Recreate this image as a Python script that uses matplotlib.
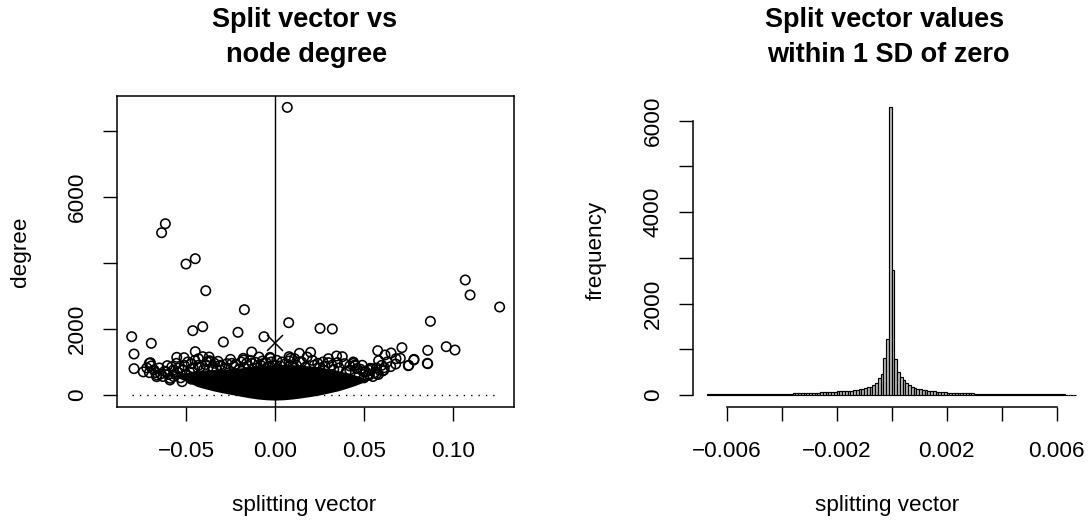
import numpy as np
import matplotlib
matplotlib.use("Agg")
import matplotlib.pyplot as plt

plt.rcParams['font.family'] = ['Liberation Sans', 'DejaVu Sans']

# ---- datos: panel izquierdo (vector de division vs grado) ----
pts_x = [0.0069, -0.0616, -0.0637, -0.0500, -0.0448, -0.0389, -0.0172, -0.0406, -0.0462, -0.0208,
         -0.0290, -0.0062, -0.0805, -0.0792, -0.0792, -0.0695, 0.0077, 0.0253, 0.0322, 0.1069,
         0.1096, 0.1262, 0.0873, 0.0962, 0.1011, 0.0858, 0.0858, 0.0713, 0.0781, 0.0751,
         0.0704, 0.0652, 0.0618, 0.0577, 0.0582, 0.0678, 0.0614, 0.0605, 0.0545, 0.0526,
         0.0378, 0.0346, 0.0200, 0.0137, -0.0131, -0.0178, -0.0028, -0.0448, -0.0552, -0.0511,
         -0.0706, -0.0695, -0.0706, -0.0665, -0.0643, -0.0605, -0.0590, -0.0406, -0.0368, 0.0450,
         0.0441, 0.0300, 0.0079, -0.0700, -0.0663, -0.0588, -0.0554, -0.0522, -0.0382, -0.0363,
         -0.0326, -0.0242, -0.0176, -0.0129, -0.0064, -0.0026, 0.0086, 0.0139, 0.0449, 0.0496,
         0.0534, 0.0530, 0.0612, 0.0680, 0.0749, 0.0780, 0.0856,
         -0.0480, -0.0460, -0.0430, -0.0400, -0.0350, -0.0310, -0.0280, -0.0230, -0.0200, -0.0150,
         -0.0100, -0.0080, -0.0040, 0.0000, 0.0030, 0.0060, 0.0100, 0.0120, 0.0170, 0.0220,
         0.0250, 0.0280, 0.0330, 0.0360, 0.0400, 0.0420, 0.0470, 0.0500, 0.0550, -0.0500,
         -0.0530, -0.0560, -0.0470, -0.0440, -0.0570, -0.0620, 0.0570, 0.0480,
         -0.0740, -0.0720, -0.0680, -0.0670, -0.0650, -0.0630, -0.0610, -0.0600, -0.0580, -0.0570,
         -0.0550, -0.0540, -0.0520, -0.0510, -0.0490, -0.0470, -0.0450, -0.0430, -0.0420, -0.0390,
         -0.0370, -0.0340, -0.0320, -0.0300, -0.0270, -0.0250, -0.0220, -0.0190, -0.0160, -0.0140,
         -0.0110, -0.0090, -0.0070, -0.0050, -0.0020, 0.0010, 0.0040, 0.0080, 0.0110, 0.0150,
         0.0180, 0.0210, 0.0240, 0.0270, 0.0300, 0.0320, 0.0350, 0.0390, 0.0420, 0.0440,
         0.0460, 0.0490, 0.0510, 0.0530, 0.0560, 0.0580, 0.0600, 0.0630, 0.0650, 0.0570]
pts_y = [8717, 5191, 4918, 3969, 4130, 3160, 2585, 2070, 1949, 1899,
         1606, 1767, 1767, 1242, 798, 1566, 2191, 2020, 2000, 3485,
         3030, 2666, 2232, 1464, 1363, 1353, 949, 1434, 1080, 899,
         1111, 1273, 1212, 1343, 1040, 939, 828, 727, 798, 636,
         1161, 1182, 1293, 1262, 1303, 1111, 1141, 1313, 1141, 1131,
         960, 879, 677, 555, 636, 889, 454, 1161, 1040, 909,
         960, 980, 1161, 979, 606, 505, 959, 404, 1010, 1010,
         757, 959, 1060, 959, 959, 1111, 1111, 1010, 879, 706,
         808, 606, 757, 1100, 888, 1060, 959,
         700, 820, 900, 780, 850, 900, 800, 860, 780, 880,
         820, 900, 860, 900, 880, 950, 860, 900, 840, 900,
         820, 880, 780, 820, 700, 760, 560, 520, 560, 600,
         520, 620, 480, 560, 760, 720, 640, 780,
         700, 820, 760, 680, 820, 560, 700, 620, 850, 560,
         700, 820, 750, 900, 1000, 950, 1050, 1100, 850, 920,
         1150, 960, 1020, 870, 950, 1080, 930, 1000, 960, 1050,
         990, 1150, 1030, 980, 1000, 1050, 1000, 1030, 1100, 1000,
         1150, 1050, 960, 1000, 1100, 900, 980, 950, 880, 1000,
         800, 900, 700, 750, 680, 620, 900, 1000, 860, 820]

# nube densa de puntos (contorno superior e inferior)
core_x = [-0.056, -0.052, -0.048, -0.044, -0.040, -0.035, -0.030, -0.025, -0.020, -0.015, -0.010,
          -0.005, 0.000, 0.005, 0.010, 0.015, 0.020, 0.025, 0.030, 0.035, 0.040, 0.044, 0.048, 0.052]
core_lo = [560, 460, 370, 260, 200, 130, 70, 20, -30, -80, -120,
           -145, -155, -145, -120, -85, -45, 0, 60, 120, 200, 270, 350, 440]
core_hi = [600, 650, 700, 740, 760, 770, 780, 800, 820, 850, 880,
           900, 920, 930, 920, 900, 880, 850, 800, 740, 680, 620, 560, 480]

mark_x, mark_y = 0.0, 1585
data_min, data_max = -0.0802, 0.1258

# ---- datos: histograma ----
hist_start = -0.0067
bin_width = 0.0001
counts = [12, 12, 13, 14, 14, 15, 15,
          16, 16, 17, 17, 18, 18, 19, 19, 20, 21,
          21, 22, 22, 23, 23, 24, 25, 26, 26, 27,
          28, 29, 30, 31, 33, 34, 36, 38, 40, 42,
          45, 47, 50, 52, 56, 60, 62, 66, 72, 76,
          82, 86, 88, 92, 95, 98,
          104, 112, 122, 135, 150, 165, 185, 220, 270, 364, 460, 816, 1217,
          6288,
          2732, 780, 495, 400, 328, 255, 211, 182, 160, 142, 128, 115, 105, 96, 88, 80, 74, 68, 62, 57,
          54, 51, 48, 45, 43, 41, 39, 37, 35, 33,
          32, 31, 29, 28, 27, 26, 25, 24, 23, 22,
          21, 21, 20, 19, 19, 18, 18, 17, 17, 16,
          16, 15, 15, 14, 14, 14, 13, 13, 12, 12,
          12, 11, 11, 10, 10, 10, 9]

W, H = 1088, 520
fig = plt.figure(figsize=(W / 100, H / 100), dpi=100)

def px_box(x0, x1, y0, y1):
    return [x0 / W, 1 - y1 / H, (x1 - x0) / W, (y1 - y0) / H]

FS = 16.2
TL = 10

# ---- panel izquierdo ----
ax1 = fig.add_axes(px_box(117, 514, 96, 406.7))
ax1.fill_between(core_x, core_lo, core_hi, color='black', lw=0)
ax1.scatter(pts_x, pts_y, s=46, facecolors='none', edgecolors='black', linewidths=1.15)
ax1.axvline(0, color='black', lw=1.0)
ax1.hlines(0, data_min, data_max, colors='black', lw=1.0, linestyles=(0, (1, 4.3)))
ax1.plot([mark_x], [mark_y], marker='x', color='black', ms=12, mew=1.1, ls='none')
ax1.set_xlim(-0.08876, 0.13427)
ax1.set_ylim(-355, 9061)
ax1.set_xticks([-0.05, 0.0, 0.05, 0.10])
ax1.set_xticklabels(['\u22120.05', '0.00', '0.05', '0.10'], fontsize=FS)
ax1.set_yticks([0, 2000, 4000, 6000, 8000])
ax1.set_yticklabels(['0', '2000', '', '6000', ''], fontsize=FS, rotation=90, va='center')
ax1.tick_params(axis='x', length=TL, width=1.0, pad=15)
ax1.tick_params(axis='y', length=TL, width=1.0, pad=11)
for s in ax1.spines.values():
    s.set_linewidth(1.1)

# ---- panel derecho: histograma ----
ax2 = fig.add_axes(px_box(693, 1088, 96, 406.7))
edges = hist_start + bin_width * np.arange(len(counts))
ax2.bar(edges, counts, width=bin_width, align='edge', color='#BEBEBE',
        edgecolor='black', linewidth=0.85)
ax2.set_xlim(-0.0072255, 0.0071382)
ax2.set_ylim(-255.7, 6536)
ax2.set_xticks([-0.006, -0.004, -0.002, 0.0, 0.002, 0.004, 0.006])
ax2.set_xticklabels(['\u22120.006', '', '\u22120.002', '', '0.002', '', '0.006'], fontsize=FS)
ax2.set_yticks([0, 1000, 2000, 3000, 4000, 5000, 6000])
ax2.set_yticklabels(['0', '', '2000', '', '4000', '', '6000'], fontsize=FS, rotation=90, va='center')
ax2.tick_params(axis='x', length=TL, width=1.0, pad=15)
ax2.tick_params(axis='y', length=TL, width=1.0, pad=11)
ax2.spines['top'].set_visible(False)
ax2.spines['right'].set_visible(False)
ax2.spines['left'].set_bounds(0, 6000)
ax2.spines['bottom'].set_bounds(-0.006, 0.006)
ax2.spines['left'].set_linewidth(1.1)
ax2.spines['bottom'].set_linewidth(1.1)

# ---- textos ----
def ftext(x, y, s, **kw):
    fig.text(x / W, 1 - y / H, s, ha='center', va='center', **kw)

ftext(305, 20, 'Split vector vs', fontsize=19.5, fontweight='bold')
ftext(307, 55, 'node degree', fontsize=19.5, fontweight='bold')
ftext(885, 20, 'Split vector values', fontsize=19.5, fontweight='bold')
ftext(888, 55, 'within 1 SD of zero', fontsize=19.5, fontweight='bold')
ftext(304, 506, 'splitting vector', fontsize=FS)
ftext(887, 506, 'splitting vector', fontsize=FS)
ftext(20, 252, 'degree', fontsize=FS, rotation=90)
ftext(596, 250, 'frequency', fontsize=FS, rotation=90)

fig.savefig('out.png', dpi=100)
